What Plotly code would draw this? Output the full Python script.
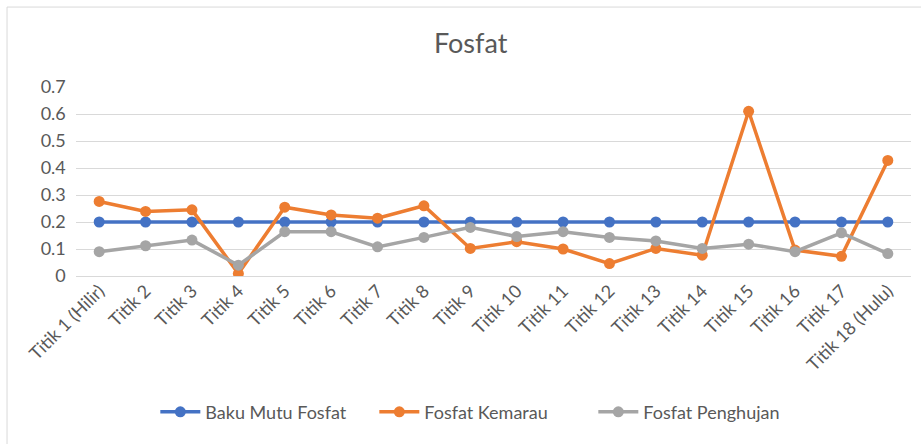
import plotly.graph_objects as go

titik = ["Titik 1 (Hilir)", "Titik 2", "Titik 3", "Titik 4", "Titik 5", "Titik 6",
         "Titik 7", "Titik 8", "Titik 9", "Titik 10", "Titik 11", "Titik 12",
         "Titik 13", "Titik 14", "Titik 15", "Titik 16", "Titik 17", "Titik 18 (Hulu)"]
baku_mutu = [0.2] * 18
kemarau = [0.276, 0.239, 0.245, 0.009, 0.255, 0.226, 0.214, 0.26, 0.102,
           0.127, 0.1, 0.046, 0.102, 0.077, 0.61, 0.096, 0.073, 0.428]
penghujan = [0.09, 0.112, 0.133, 0.04, 0.164, 0.164, 0.108, 0.143, 0.18,
             0.146, 0.164, 0.143, 0.13, 0.102, 0.118, 0.09, 0.16, 0.083]

series = [
    ("Baku Mutu Fosfat", baku_mutu, "#4472C4"),
    ("Fosfat Kemarau", kemarau, "#ED7D31"),
    ("Fosfat Penghujan", penghujan, "#A5A5A5"),
]

fig = go.Figure()
for name, vals, col in series:
    fig.add_trace(go.Scatter(
        x=titik, y=vals, name=name, mode="lines+markers",
        line=dict(color=col, width=3.5),
        marker=dict(color=col, size=11),
    ))

fig.update_layout(
    width=921,
    height=444,
    paper_bgcolor="white",
    plot_bgcolor="white",
    font=dict(family="Lato, Carlito, sans-serif", size=18, color="#595959"),
    title=dict(text="Fosfat", x=0.511, xref="container", xanchor="center",
               y=0.903, yref="container", yanchor="middle",
               font=dict(size=27, color="#595959")),
    margin=dict(l=76, r=10, t=87, b=168, autoexpand=False),
    showlegend=True,
    legend=dict(orientation="h", x=0.095, xanchor="left", y=-0.72, yanchor="middle",
                font=dict(size=18, color="#595959"), itemwidth=40,
                entrywidth=164, traceorder="normal"),
    # chart border, like the Excel chart frame
    shapes=[
        dict(type="line", xref="paper", yref="paper", x0=-0.0826, x1=1.05,
             y0=1.423, y1=1.423, line=dict(color="#D9D9D9", width=1)),
        dict(type="line", xref="paper", yref="paper", x0=-0.0826, x1=-0.0826,
             y0=1.423, y1=-1.0, line=dict(color="#D9D9D9", width=1)),
    ],
)
fig.update_xaxes(tickangle=-45, showgrid=False, showline=False, ticks="",
                 range=[-0.5, len(titik) - 0.5],
                 automargin=False, tickfont=dict(size=18, color="#595959"))
fig.update_yaxes(range=[0, 0.7], dtick=0.1, showgrid=True, automargin=False,
                 gridcolor="#D9D9D9", gridwidth=1, zeroline=True,
                 zerolinecolor="#D9D9D9", zerolinewidth=1, ticks="",
                 tickfont=dict(size=18, color="#595959"), ticksuffix="  ")

fig.write_html("out.html", config={"displayModeBar": False},
               post_script="document.body.style.margin='0';")
